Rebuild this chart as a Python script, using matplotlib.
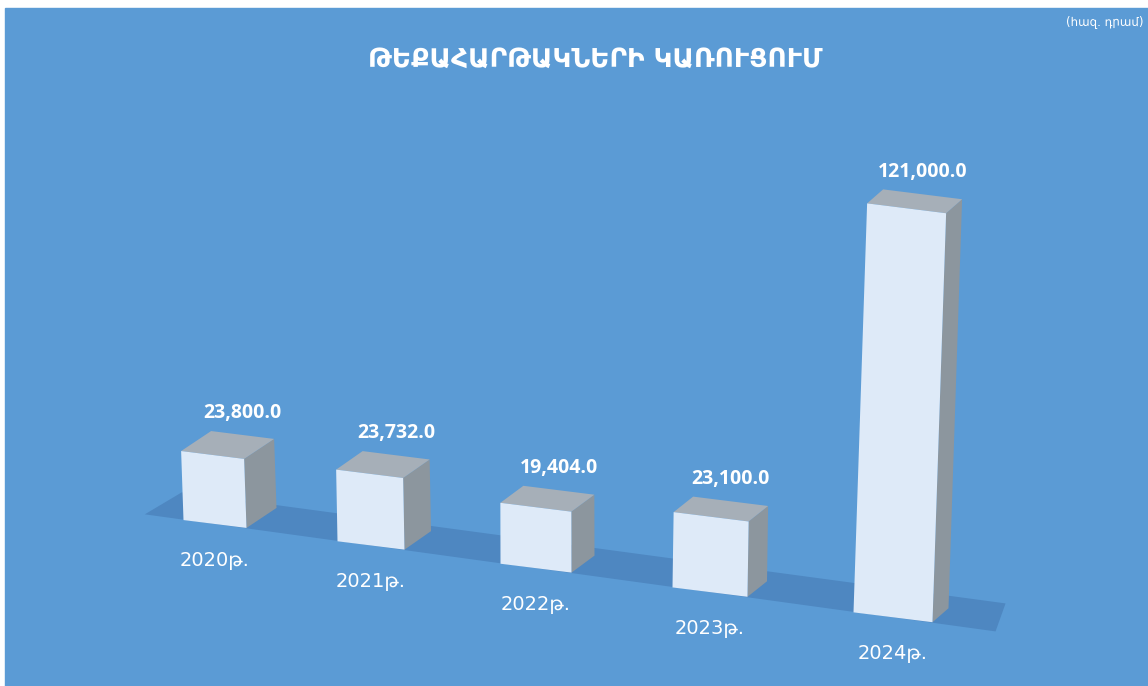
import matplotlib.pyplot as plt
from matplotlib.patches import Polygon, Rectangle

# chart data
years = ['2020թ.', '2021թ.', '2022թ.', '2023թ.', '2024թ.']
values = [23800.0, 23732.0, 19404.0, 23100.0, 121000.0]
title = 'ԹԵՔԱՀԱՐԹԱԿՆԵՐԻ ԿԱՌՈՒՑՈՒՄ'
unit = '(հազ. դրամ)'

BG = '#5B9BD5'
FLOOR = '#4E87C1'
FRONT = '#DEEAF8'
TOP = '#A6AFB8'
SIDE = '#8C969E'


def base_x(i):
    # perspective: slots get wider to the right
    return 215 + 151.5 * i + 4.5 * i ** 2


def base_y(x):
    return 524 + 0.1376 * (x - 215)


def bar_geometry(i, v):
    xc = base_x(i)
    yb = base_y(xc)
    w = 63 + 4 * i
    h = v * (2.9 + 0.12 * i) / 1000.0
    dx, dy = 30 - 3.5 * i, -20 + 1.5 * i
    lean = (xc - 560) * 0.0001 * h
    tilt = 0.125 * w / 2
    bl = (xc - w / 2, yb - tilt)
    br = (xc + w / 2, yb + tilt)
    tl = (bl[0] + lean, bl[1] - h)
    tr = (br[0] + lean, br[1] - h)
    return xc, yb, h, dx, dy, lean, bl, br, tl, tr


fig = plt.figure(figsize=(11.48, 6.86), dpi=100)
fig.patch.set_facecolor('white')
ax = fig.add_axes([0, 0, 1, 1])
ax.set_xlim(0, 1148)
ax.set_ylim(686, 0)
ax.axis('off')

ax.add_patch(Rectangle((5, 8), 1143, 678, color=BG, zorder=0))

# floor band
i0, i1 = -0.47, 4.54
fx0, fx1 = base_x(i0), base_x(i1)
floor = [(fx0, base_y(fx0)), (fx1, base_y(fx1)),
         (fx1 + 10, base_y(fx1) - 28), (fx0 + 37, base_y(fx0) - 22)]
ax.add_patch(Polygon(floor, closed=True, color=FLOOR, lw=0, zorder=1))

for i, v in enumerate(values):
    xc, yb, h, dx, dy, lean, bl, br, tl, tr = bar_geometry(i, v)
    side = [br, tr, (tr[0] + dx, tr[1] + dy), (br[0] + dx, br[1] + dy)]
    top = [tl, tr, (tr[0] + dx, tr[1] + dy), (tl[0] + dx, tl[1] + dy)]
    front = [bl, br, tr, tl]
    ax.add_patch(Polygon(side, closed=True, color=SIDE, lw=0, zorder=2))
    ax.add_patch(Polygon(top, closed=True, color=TOP, lw=0, zorder=2))
    ax.add_patch(Polygon(front, closed=True, color=FRONT, lw=0, zorder=3))

    ytop = yb - h
    ax.text(xc + lean + dx, ytop + dy - 22, f'{v:,.1f}', ha='center', va='center',
            color='white', fontsize=14, fontweight='bold',
            family=['Open Sans', 'DejaVu Sans'], zorder=4)
    ax.text(xc, yb + 36, years[i], ha='center', va='center', color='white',
            fontsize=14, family=['DejaVu Sans'], zorder=4)

ax.text(595, 60, title, ha='center', va='center', color='white',
        fontsize=19, fontweight='bold', family=['DejaVu Sans'])
ax.text(1144, 22, unit, ha='right', va='center', color='white',
        fontsize=8.5, family=['DejaVu Sans'])

fig.savefig('out.png', dpi=100, facecolor=fig.get_facecolor())
